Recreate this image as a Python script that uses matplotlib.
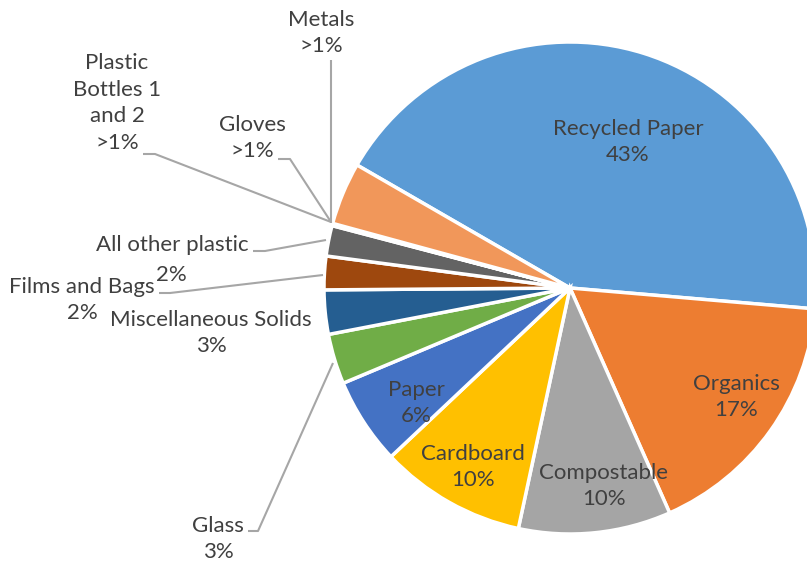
import matplotlib
matplotlib.use('Agg')
from matplotlib import pyplot as plt

# waste composition, clockwise from the top-left
categories = ['Recycled Paper', 'Organics', 'Compostable', 'Cardboard', 'Paper',
              'Glass', 'Miscellaneous Solids', 'Films and Bags', 'All other plastic',
              'Plastic Bottles 1 and 2', 'Gloves', 'Metals', 'Other']
values = [43, 17, 10, 9.6, 5.7, 3.3, 2.9, 2.2, 2.0, 0.05, 0.05, 0.05, 4.1]
pct_labels = ['43%', '17%', '10%', '10%', '6%', '3%', '3%', '2%', '2%',
              '>1%', '>1%', '>1%', '']

colors = ['#5B9BD5', '#ED7D31', '#A5A5A5', '#FFC000', '#4472C4', '#70AD47',
          '#255E91', '#9E480E', '#636363', '#997300', '#264478', '#43682B', '#F1975A']

W, H = 807, 564
TXT = '#404040'
LINE = '#A6A6A6'
FS = 16

fig = plt.figure(figsize=(W / 100, H / 100), dpi=100)
ax = fig.add_axes([0, 0, 1, 1])

ax.pie(values, colors=colors, startangle=150, counterclock=False,
       center=(570, H - 288), radius=246,
       wedgeprops=dict(edgecolor='white', linewidth=2.5))
ax.set_xlim(0, W)
ax.set_ylim(0, H)
ax.set_aspect('equal')
ax.axis('off')

# label layout in pixel coords (x, y from top); text name split for wrapping
label_pos = {
    'Recycled Paper': (628, 142, 'Recycled Paper'),
    'Organics': (736, 397, 'Organics'),
    'Compostable': (604, 486, 'Compostable'),
    'Cardboard': (473, 467, 'Cardboard'),
    'Paper': (416, 403, 'Paper'),
    'Glass': (218, 539, 'Glass'),
    'Miscellaneous Solids': (211, 333, 'Miscellaneous Solids'),
    'Films and Bags': (82, 300, 'Films and Bags'),
    'Metals': (321, 33, 'Metals'),
    'Gloves': (252, 138, 'Gloves'),
    'Plastic Bottles 1 and 2': (117, 103, 'Plastic\nBottles 1\nand 2'),
}

for name, pct in zip(categories, pct_labels):
    if name not in label_pos:
        continue
    x, y, txt = label_pos[name]
    ax.text(x, H - y, txt + '\n' + pct, ha='center', va='center',
            fontsize=FS, color=TXT, family='Lato', linespacing=1.42)

# "All other plastic" has its two lines offset from each other
ax.text(172, H - 245, 'All other plastic', ha='center', va='center',
        fontsize=FS, color=TXT, family='Lato')
ax.text(171, H - 275, '2%', ha='center', va='center',
        fontsize=FS, color=TXT, family='Lato')

# leader lines
leaders = [
    [(331, 60), (331, 223)],
    [(278, 159), (290, 159), (331, 222)],
    [(143, 154), (155, 154), (331, 222)],
    [(253, 251), (265, 251), (326, 240)],
    [(159, 293), (170, 293), (323, 275)],
    [(248, 531), (258, 531), (333, 363)],
]
for pts in leaders:
    xs = [p[0] for p in pts]
    ys = [H - p[1] for p in pts]
    ax.plot(xs, ys, color=LINE, linewidth=1.5, solid_capstyle='butt')

plt.savefig('out.png', dpi=100)
